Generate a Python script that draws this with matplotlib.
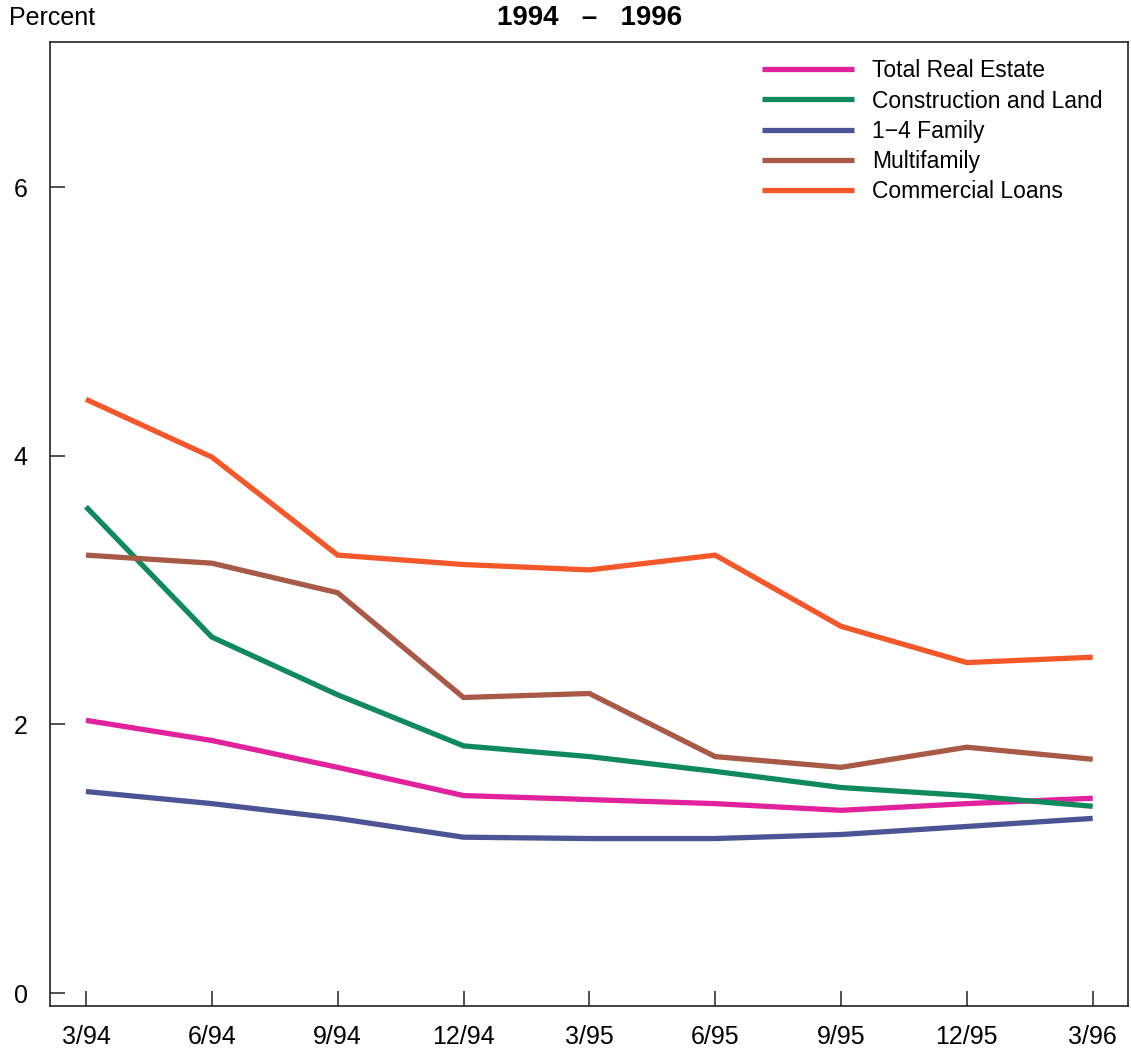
import matplotlib
matplotlib.use("Agg")
import matplotlib.pyplot as plt

quarters = ["3/94", "6/94", "9/94", "12/94", "3/95", "6/95", "9/95", "12/95", "3/96"]
total_real_estate = [2.03, 1.88, 1.68, 1.47, 1.44, 1.41, 1.36, 1.41, 1.45]
construction_land = [3.62, 2.65, 2.22, 1.84, 1.76, 1.65, 1.53, 1.47, 1.39]
one_four_family = [1.50, 1.41, 1.30, 1.16, 1.15, 1.15, 1.18, 1.24, 1.30]
multifamily = [3.26, 3.20, 2.98, 2.20, 2.23, 1.76, 1.68, 1.83, 1.74]
commercial_loans = [4.42, 3.99, 3.26, 3.19, 3.15, 3.26, 2.73, 2.46, 2.50]
y_ticks = [0, 2, 4, 6]

series = [
    ("Total Real Estate", total_real_estate, "#e2219c"),
    ("Construction and Land", construction_land, "#0f8a5c"),
    ("1\u22124 Family", one_four_family, "#4b5596"),
    ("Multifamily", multifamily, "#a85a47"),
    ("Commercial Loans", commercial_loans, "#f4582a"),
]

plt.rcParams["font.family"] = ["Liberation Sans", "DejaVu Sans"]

fig = plt.figure(figsize=(11.31, 10.61), dpi=100)
ax = fig.add_axes([0.0442, 0.0518, 0.9531, 0.9086])

x = list(range(len(quarters)))
for label, vals, color in series:
    ax.plot(x, vals, color=color, lw=3.8, label=label, solid_capstyle="butt", solid_joinstyle="miter")

ax.set_xlim(-0.286, 8.28)
ax.set_ylim(-0.097, 7.08)
ax.set_xticks(x)
ax.set_xticklabels(quarters)
ax.set_yticks(y_ticks)
ax.tick_params(axis="both", direction="in", length=11, width=1.1, labelsize=18, color="#222222")
ax.tick_params(axis="x", pad=14)
ax.tick_params(axis="y", pad=16)
for s in ax.spines.values():
    s.set_linewidth(1.2)
    s.set_color("#222222")

fig.text(0.008, 0.983, "Percent", fontsize=18, va="center", ha="left")
fig.text(0.5215, 0.983, "1994   \u2013   1996", fontsize=20, fontweight="bold", va="center", ha="center")

leg = ax.legend(loc="upper left", bbox_to_anchor=(0.674, 0.944), bbox_transform=fig.transFigure,
                frameon=False, fontsize=16.5, handlelength=4.0, handletextpad=0.8,
                labelspacing=0.31, borderpad=0, borderaxespad=0)

fig.savefig("out.png", dpi=100)
